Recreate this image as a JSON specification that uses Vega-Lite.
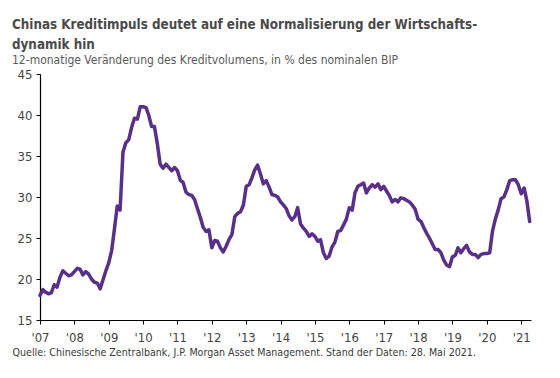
{
  "$schema": "https://vega.github.io/schema/vega-lite/v6.json",
  "autosize": {"type": "none"},
  "width": 491,
  "height": 246,
  "padding": {"left": 40, "top": 74, "right": 29, "bottom": 58},
  "background": "white",
  "config": {
    "view": {"stroke": null},
    "font": "Liberation Sans Narrow, DejaVu Sans Condensed, sans-serif"
  },
  "title": {
    "text": ["Chinas Kreditimpuls deutet auf eine Normalisierung der Wirtschafts-", "dynamik hin"],
    "subtitle": "12-monatige Veränderung des Kreditvolumens, in % des nominalen BIP",
    "anchor": "start",
    "frame": "group",
    "dx": -28,
    "offset": 2,
    "font": "Liberation Sans Narrow, DejaVu Sans Condensed, sans-serif",
    "fontSize": 13.3,
    "fontWeight": "bold",
    "color": "#4a4a4a",
    "lineHeight": 20,
    "subtitleFont": "Liberation Sans Narrow, DejaVu Sans Condensed, sans-serif",
    "subtitleFontSize": 12,
    "subtitleColor": "#5a5a5a",
    "subtitlePadding": 4
  },
  "data": {
    "values": [
      {"date": "2007-01-01", "value": 18.0}, {"date": "2007-02-01", "value": 18.7}, {"date": "2007-03-01", "value": 18.4}, {"date": "2007-04-01", "value": 18.2},
      {"date": "2007-05-01", "value": 18.3}, {"date": "2007-06-01", "value": 19.3}, {"date": "2007-07-01", "value": 19.0}, {"date": "2007-08-01", "value": 20.2},
      {"date": "2007-09-01", "value": 21.0}, {"date": "2007-10-01", "value": 20.7}, {"date": "2007-11-01", "value": 20.4}, {"date": "2007-12-01", "value": 20.5},
      {"date": "2008-01-01", "value": 20.9}, {"date": "2008-02-01", "value": 21.3}, {"date": "2008-03-01", "value": 21.2}, {"date": "2008-04-01", "value": 20.5},
      {"date": "2008-05-01", "value": 20.9}, {"date": "2008-06-01", "value": 20.6}, {"date": "2008-07-01", "value": 20.0}, {"date": "2008-08-01", "value": 19.6},
      {"date": "2008-09-01", "value": 19.5}, {"date": "2008-10-01", "value": 18.8}, {"date": "2008-11-01", "value": 19.9}, {"date": "2008-12-01", "value": 21.0},
      {"date": "2009-01-01", "value": 22.0}, {"date": "2009-02-01", "value": 23.5}, {"date": "2009-03-01", "value": 26.0}, {"date": "2009-04-01", "value": 28.9},
      {"date": "2009-05-01", "value": 28.4}, {"date": "2009-06-01", "value": 35.5}, {"date": "2009-07-01", "value": 36.6}, {"date": "2009-08-01", "value": 37.0},
      {"date": "2009-09-01", "value": 38.5}, {"date": "2009-10-01", "value": 39.6}, {"date": "2009-11-01", "value": 39.5}, {"date": "2009-12-01", "value": 41.0},
      {"date": "2010-01-01", "value": 41.0}, {"date": "2010-02-01", "value": 40.9}, {"date": "2010-03-01", "value": 40.0}, {"date": "2010-04-01", "value": 38.6},
      {"date": "2010-05-01", "value": 38.6}, {"date": "2010-06-01", "value": 36.5}, {"date": "2010-07-01", "value": 34.0}, {"date": "2010-08-01", "value": 33.5},
      {"date": "2010-09-01", "value": 34.0}, {"date": "2010-10-01", "value": 33.6}, {"date": "2010-11-01", "value": 33.2}, {"date": "2010-12-01", "value": 33.6},
      {"date": "2011-01-01", "value": 33.2}, {"date": "2011-02-01", "value": 32.0}, {"date": "2011-03-01", "value": 31.8}, {"date": "2011-04-01", "value": 30.6},
      {"date": "2011-05-01", "value": 30.3}, {"date": "2011-06-01", "value": 30.2}, {"date": "2011-07-01", "value": 29.7}, {"date": "2011-08-01", "value": 28.6},
      {"date": "2011-09-01", "value": 27.5}, {"date": "2011-10-01", "value": 26.3}, {"date": "2011-11-01", "value": 25.8}, {"date": "2011-12-01", "value": 26.0},
      {"date": "2012-01-01", "value": 23.8}, {"date": "2012-02-01", "value": 24.7}, {"date": "2012-03-01", "value": 24.6}, {"date": "2012-04-01", "value": 23.8},
      {"date": "2012-05-01", "value": 23.3}, {"date": "2012-06-01", "value": 24.0}, {"date": "2012-07-01", "value": 24.8}, {"date": "2012-08-01", "value": 25.4},
      {"date": "2012-09-01", "value": 27.6}, {"date": "2012-10-01", "value": 28.0}, {"date": "2012-11-01", "value": 28.2}, {"date": "2012-12-01", "value": 29.0},
      {"date": "2013-01-01", "value": 31.3}, {"date": "2013-02-01", "value": 31.5}, {"date": "2013-03-01", "value": 32.3}, {"date": "2013-04-01", "value": 33.3},
      {"date": "2013-05-01", "value": 33.9}, {"date": "2013-06-01", "value": 32.8}, {"date": "2013-07-01", "value": 31.6}, {"date": "2013-08-01", "value": 32.0},
      {"date": "2013-09-01", "value": 31.2}, {"date": "2013-10-01", "value": 30.3}, {"date": "2013-11-01", "value": 30.2}, {"date": "2013-12-01", "value": 30.0},
      {"date": "2014-01-01", "value": 29.4}, {"date": "2014-02-01", "value": 29.0}, {"date": "2014-03-01", "value": 28.6}, {"date": "2014-04-01", "value": 27.7},
      {"date": "2014-05-01", "value": 27.2}, {"date": "2014-06-01", "value": 27.6}, {"date": "2014-07-01", "value": 28.7}, {"date": "2014-08-01", "value": 26.7},
      {"date": "2014-09-01", "value": 26.2}, {"date": "2014-10-01", "value": 25.8}, {"date": "2014-11-01", "value": 25.2}, {"date": "2014-12-01", "value": 25.5},
      {"date": "2015-01-01", "value": 25.2}, {"date": "2015-02-01", "value": 24.6}, {"date": "2015-03-01", "value": 24.8}, {"date": "2015-04-01", "value": 23.2},
      {"date": "2015-05-01", "value": 22.5}, {"date": "2015-06-01", "value": 22.8}, {"date": "2015-07-01", "value": 23.9}, {"date": "2015-08-01", "value": 24.5},
      {"date": "2015-09-01", "value": 25.8}, {"date": "2015-10-01", "value": 25.9}, {"date": "2015-11-01", "value": 26.6}, {"date": "2015-12-01", "value": 27.3},
      {"date": "2016-01-01", "value": 28.7}, {"date": "2016-02-01", "value": 28.4}, {"date": "2016-03-01", "value": 30.5}, {"date": "2016-04-01", "value": 31.3},
      {"date": "2016-05-01", "value": 31.5}, {"date": "2016-06-01", "value": 31.7}, {"date": "2016-07-01", "value": 30.5}, {"date": "2016-08-01", "value": 31.1},
      {"date": "2016-09-01", "value": 31.5}, {"date": "2016-10-01", "value": 31.2}, {"date": "2016-11-01", "value": 31.6}, {"date": "2016-12-01", "value": 30.9},
      {"date": "2017-01-01", "value": 31.3}, {"date": "2017-02-01", "value": 30.7}, {"date": "2017-03-01", "value": 30.2}, {"date": "2017-04-01", "value": 29.4},
      {"date": "2017-05-01", "value": 29.7}, {"date": "2017-06-01", "value": 29.4}, {"date": "2017-07-01", "value": 29.9}, {"date": "2017-08-01", "value": 29.8},
      {"date": "2017-09-01", "value": 29.6}, {"date": "2017-10-01", "value": 29.4}, {"date": "2017-11-01", "value": 29.0}, {"date": "2017-12-01", "value": 28.5},
      {"date": "2018-01-01", "value": 27.3}, {"date": "2018-02-01", "value": 27.0}, {"date": "2018-03-01", "value": 26.3}, {"date": "2018-04-01", "value": 25.6},
      {"date": "2018-05-01", "value": 25.0}, {"date": "2018-06-01", "value": 24.3}, {"date": "2018-07-01", "value": 23.6}, {"date": "2018-08-01", "value": 23.6},
      {"date": "2018-09-01", "value": 23.2}, {"date": "2018-10-01", "value": 22.3}, {"date": "2018-11-01", "value": 21.7}, {"date": "2018-12-01", "value": 21.5},
      {"date": "2019-01-01", "value": 22.7}, {"date": "2019-02-01", "value": 22.9}, {"date": "2019-03-01", "value": 23.8}, {"date": "2019-04-01", "value": 23.2},
      {"date": "2019-05-01", "value": 23.7}, {"date": "2019-06-01", "value": 24.1}, {"date": "2019-07-01", "value": 23.3}, {"date": "2019-08-01", "value": 23.0},
      {"date": "2019-09-01", "value": 23.0}, {"date": "2019-10-01", "value": 22.6}, {"date": "2019-11-01", "value": 23.0}, {"date": "2019-12-01", "value": 23.1},
      {"date": "2020-01-01", "value": 23.1}, {"date": "2020-02-01", "value": 23.2}, {"date": "2020-03-01", "value": 25.8}, {"date": "2020-04-01", "value": 27.3},
      {"date": "2020-05-01", "value": 28.4}, {"date": "2020-06-01", "value": 29.8}, {"date": "2020-07-01", "value": 30.0}, {"date": "2020-08-01", "value": 30.9},
      {"date": "2020-09-01", "value": 32.0}, {"date": "2020-10-01", "value": 32.1}, {"date": "2020-11-01", "value": 32.1}, {"date": "2020-12-01", "value": 31.5},
      {"date": "2021-01-01", "value": 30.4}, {"date": "2021-02-01", "value": 31.1}, {"date": "2021-03-01", "value": 29.6}, {"date": "2021-04-01", "value": 27.0}
    ]
  },
  "mark": {"type": "line", "color": "#58308a", "strokeWidth": 3.5, "strokeJoin": "round", "strokeCap": "round"},
  "encoding": {
    "x": {
      "field": "date",
      "type": "temporal",
      "scale": {"domain": ["2007-01-01", "2021-04-15"]},
      "axis": {
        "format": "'%y",
        "tickCount": {"interval": "year", "step": 1},
        "grid": false,
        "domainColor": "#000000",
        "domainWidth": 1.2,
        "tickColor": "#000000",
        "tickSize": 4,
        "labelFontSize": 13,
        "labelColor": "#444444",
        "labelPadding": 7,
        "labelFlush": false,
        "labelOverlap": false,
        "title": "Quelle: Chinesische Zentralbank, J.P. Morgan Asset Management. Stand der Daten: 28. Mai 2021.",
        "titleFontSize": 10.6,
        "titleFontWeight": "normal",
        "titleColor": "#3a3a3a",
        "titleAnchor": "start",
        "titleAlign": "left",
        "titleBaseline": "alphabetic",
        "titleX": -28,
        "titleY": 35
      }
    },
    "y": {
      "field": "value",
      "type": "quantitative",
      "scale": {"domain": [15, 45], "nice": false},
      "axis": {
        "values": [15, 20, 25, 30, 35, 40, 45],
        "grid": false,
        "domainColor": "#000000",
        "domainWidth": 1.2,
        "tickColor": "#000000",
        "tickSize": 4,
        "labelFontSize": 13,
        "labelColor": "#444444",
        "labelPadding": 4,
        "title": null
      }
    }
  }
}
